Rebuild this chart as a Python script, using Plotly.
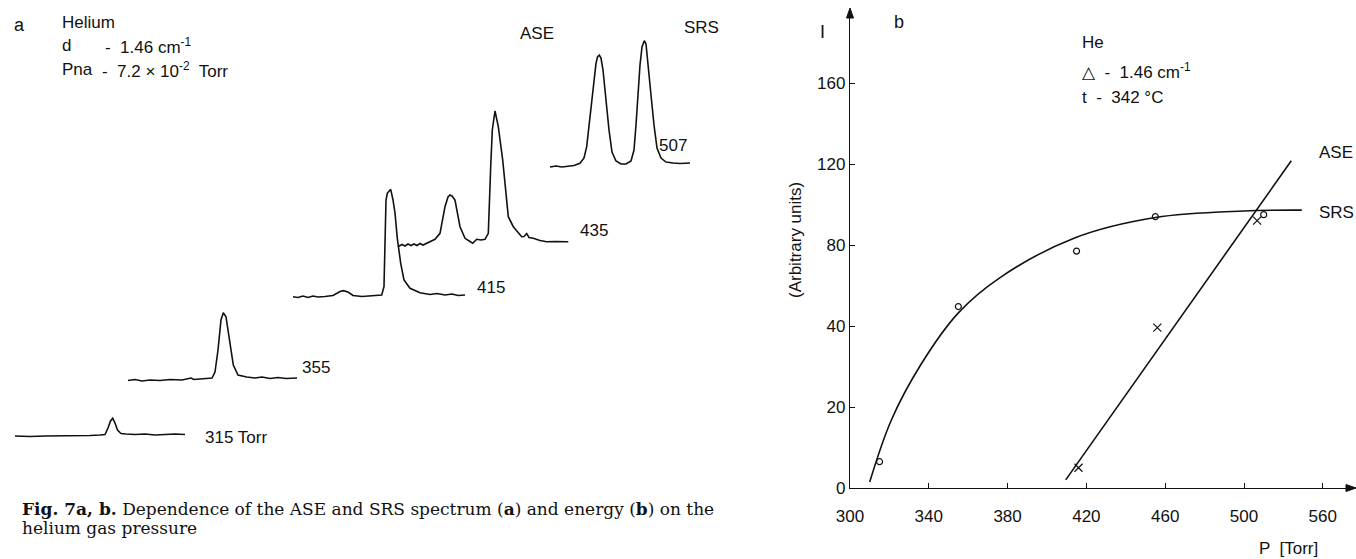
import numpy as np
import plotly.graph_objects as go

# ---------------- Panel (a): spectra (relative position, relative intensity) ----------------
spec_names = ["315 Torr", "355", "415", "435", "507"]

s315_x = [0, 15, 30, 45, 60, 75, 85, 90, 93, 95.5, 97.7, 100, 102.5, 106, 111, 120, 130, 140, 150, 160, 170]
s315_y = [0, -0.5, 0, 0, 0.5, 0.5, 1, 1.5, 8, 15, 17.7, 13, 6, 2.5, 2, 1.5, 2, 1, 1.5, 2, 1.5]

s355_x = [0, 7, 14, 22, 32, 42, 54, 60, 63, 66, 77, 84, 87, 90, 93, 95.3, 98, 102, 105.3, 110, 118.7,
          127, 134, 142, 150, 158, 169]
s355_y = [-0.5, 0.5, -1, 0, -0.5, 0.5, 0, 1, 2, 0.5, 1, 2, 8, 30, 60, 67.3, 63.3, 37, 15, 5, 3,
          2, 3, 1.5, 2.5, 1.5, 2]

s415_x = [0, 5, 10, 15, 20, 25, 32, 40, 47, 50.3, 55, 60, 69, 79, 86, 88.7, 91, 93, 94.3, 97.7, 100,
          102, 104.3, 107.7, 111, 117, 127, 137, 144, 152, 159, 165, 172]
s415_y = [-0.2, -1, 0.5, -1, 0.5, -0.5, 0, 1, 5, 5.8, 4.5, 1, 0, 0.5, 1, 1.5, 9.8, 96.5, 103.2, 107.2, 96.5,
          83.5, 58.2, 33.2, 16.5, 8.2, 3.8, 2, 3, 1.5, 2.5, 1, 1.5]

s435_x = [0, 4, 7, 10, 13, 16, 19, 22, 25, 28, 32, 37, 42, 47, 50, 52, 54, 57, 62, 67, 72, 74.7, 78.7,
          83, 87, 90.3, 92.7, 94.3, 97, 100.3, 104.7, 110.3, 115.3, 120, 123.7, 126, 128.7, 131, 135.3,
          142, 148.7, 157, 170.3]
s435_y = [-0.7, 1.5, 0, 2, 0.5, 2, 0.5, 2.5, 1, 2.5, 4, 6.7, 12.7, 39.3, 49, 51, 50, 46, 19.3, 7.7, 4.5,
          2.7, 6.7, 6, 6.7, 12.7, 79.3, 116, 135, 119.3, 86, 29.3, 19.3, 14, 9.3, 9.5, 12.5, 8.5, 7.7,
          5.5, 4.3, 4.5, 4.3]

s507_x = [0, 6, 12, 18, 24, 30, 34, 36.7, 39, 41.7, 44, 46, 47.5, 49.3, 51, 53, 56, 59, 62, 66, 71, 76,
          81, 84, 86, 88, 90, 92, 94.3, 96, 98, 101, 104, 107, 111, 116, 123, 130, 140]
s507_y = [-1, 0, -1, 0, 0.5, 2.7, 8, 19.3, 41, 66, 88, 102.7, 109, 111, 108, 96, 66, 36, 14, 5, 2, 2,
          5, 16, 41, 71, 101, 119, 125.3, 122, 104, 71, 41, 18, 8, 4, 3, 2.5, 3]

spectra_x = [s315_x, s355_x, s415_x, s435_x, s507_x]
spectra_y = [s315_y, s355_y, s415_y, s435_y, s507_y]

# ---------------- Panel (b): energy vs pressure ----------------
x_ticks = [300, 340, 380, 420, 460, 500, 560]
y_ticks = [0, 20, 40, 80, 120, 160]

srs_p = [315, 355, 415, 455, 515]
srs_e = [6.5, 49.6, 77, 94, 95]
ase_p = [416, 456, 510]
ase_e = [5, 39.6, 92]

srs_fit_p = [310, 321, 336, 355, 376, 414, 455, 500, 544]
srs_fit_e = [1.5, 16.8, 30.5, 46.5, 63.8, 83.5, 93.6, 96.8, 97.2]
ase_fit_p = [409.5, 536]
ase_fit_e = [2, 121.6]

# ---------------- layout helpers ----------------
W, H = 1356, 559
SANS = "Liberation Sans, Arial, sans-serif"
SERIF = "DejaVu Serif, Liberation Serif, serif"
BLACK = "#111111"

# stacking offsets of the spectra in panel (a) (pixel-like units of a hidden axis)
spec_x0 = [15, 128, 293, 398, 550]
spec_base = [123, 179, 262.5, 313, 393]


def xs(v):
    return np.interp(v, x_ticks, np.arange(len(x_ticks)))


def ys(v):
    return np.interp(v, y_ticks, np.arange(len(y_ticks)))


def px(x):
    return x / W


def py(y):
    return 1 - y / H


fig = go.Figure()

for xr, yr, x0, b in zip(spectra_x, spectra_y, spec_x0, spec_base):
    fig.add_trace(go.Scatter(x=np.array(xr) + x0, y=np.array(yr) + b, mode="lines",
                             line=dict(color=BLACK, width=1.6), xaxis="x", yaxis="y",
                             hoverinfo="skip", showlegend=False))

fig.add_trace(go.Scatter(x=xs(srs_fit_p), y=ys(srs_fit_e), mode="lines",
                         line=dict(color=BLACK, width=1.6, shape="spline", smoothing=1.0),
                         xaxis="x2", yaxis="y2", showlegend=False))
fig.add_trace(go.Scatter(x=xs(ase_fit_p), y=ys(ase_fit_e), mode="lines",
                         line=dict(color=BLACK, width=1.6), xaxis="x2", yaxis="y2", showlegend=False))
fig.add_trace(go.Scatter(x=xs(srs_p), y=ys(srs_e), mode="markers",
                         marker=dict(symbol="circle-open", size=6, color=BLACK, line=dict(width=1.2)),
                         xaxis="x2", yaxis="y2", showlegend=False))
fig.add_trace(go.Scatter(x=xs(ase_p), y=ys(ase_e), mode="markers",
                         marker=dict(symbol="x-thin-open", size=8, color=BLACK, line=dict(width=1.2, color=BLACK)),
                         xaxis="x2", yaxis="y2", showlegend=False))

X0, X1, Y0, Y1 = 850, 1353, 488, 12
xr2 = (X1 - X0) / 78.8
yr2 = (Y0 - Y1) / 81.0

fig.update_layout(
    width=W, height=H, margin=dict(l=0, r=0, t=0, b=0, autoexpand=False),
    paper_bgcolor="white", plot_bgcolor="white",
    font=dict(family=SANS, color=BLACK, size=17),
    xaxis=dict(domain=[0, 780 / W], range=[0, 780], visible=False),
    yaxis=dict(domain=[0, 1], range=[0, H], visible=False),
    xaxis2=dict(domain=[X0 / W, X1 / W], range=[0, xr2], anchor="y2",
                showline=True, linecolor=BLACK, linewidth=1.3, showgrid=False, zeroline=False,
                tickmode="array", tickvals=list(range(len(x_ticks))), ticktext=[str(t) for t in x_ticks],
                ticks="inside", ticklen=5, tickcolor=BLACK, ticklabelstandoff=12,
                tickfont=dict(family=SANS, size=17, color=BLACK)),
    yaxis2=dict(domain=[(H - Y0) / H, (H - Y1) / H], range=[0, yr2], anchor="x2",
                showline=True, linecolor=BLACK, linewidth=1.3, showgrid=False, zeroline=False,
                tickmode="array", tickvals=list(range(len(y_ticks))), ticktext=[str(t) for t in y_ticks],
                ticks="inside", ticklen=5, tickcolor=BLACK,
                tickfont=dict(family=SANS, size=17, color=BLACK)),
)

ann = []


def txt(x, y, s, size=17, xanchor="left", family=SANS, angle=0):
    ann.append(dict(x=px(x), y=py(y), xref="paper", yref="paper", text=s, showarrow=False,
                    xanchor=xanchor, yanchor="middle", textangle=angle,
                    font=dict(family=family, size=size, color=BLACK)))


# panel a texts
txt(12, 25, "a", 18)
txt(60, 22, "Helium")
txt(60, 46, "d")
txt(103, 46, "-  1.46 cm<sup>-1</sup>")
txt(60, 70, "Pna")
txt(100, 70, "-  7.2 × 10<sup>-2</sup>  Torr")
txt(537, 33, "ASE", xanchor="center")
txt(701, 28, "SRS", xanchor="center")
label_pos = [(203, 437), (300, 367), (475, 287), (578, 230), (657, 146)]
for name, (lx, ly) in zip(spec_names, label_pos):
    txt(lx, ly, name)

# panel b texts
txt(818, 32, "I", 18)
txt(892, 22, "b", 18)
txt(1080, 43, "He")
txt(1080, 71, "△  -  1.46 cm<sup>-1</sup>")
txt(1080, 97, "t  -  342 °C")
txt(1317, 152, "ASE")
txt(1317, 213, "SRS")
txt(796, 240, "(Arbitrary units)", angle=-90, xanchor="center")
txt(1257, 548, "P  [Torr]")

# caption
txt(20, 509, "<b>Fig. 7a, b.</b> Dependence of the ASE and SRS spectrum (<b>a</b>) and energy (<b>b</b>) on the",
    17, family=SERIF)
txt(20, 528, "helium gas pressure", 17, family=SERIF)

fig.update_layout(annotations=ann)

# axis arrow heads
fig.add_shape(type="path", xref="paper", yref="paper",
              path=f"M {px(X1 + 3)},{py(Y0)} L {px(X1 - 7)},{py(Y0 - 3.5)} L {px(X1 - 7)},{py(Y0 + 3.5)} Z",
              fillcolor=BLACK, line=dict(color=BLACK, width=1))
fig.add_shape(type="path", xref="paper", yref="paper",
              path=f"M {px(X0)},{py(Y1 - 4)} L {px(X0 - 3.5)},{py(Y1 + 6)} L {px(X0 + 3.5)},{py(Y1 + 6)} Z",
              fillcolor=BLACK, line=dict(color=BLACK, width=1))

fig.write_html("out.html")
